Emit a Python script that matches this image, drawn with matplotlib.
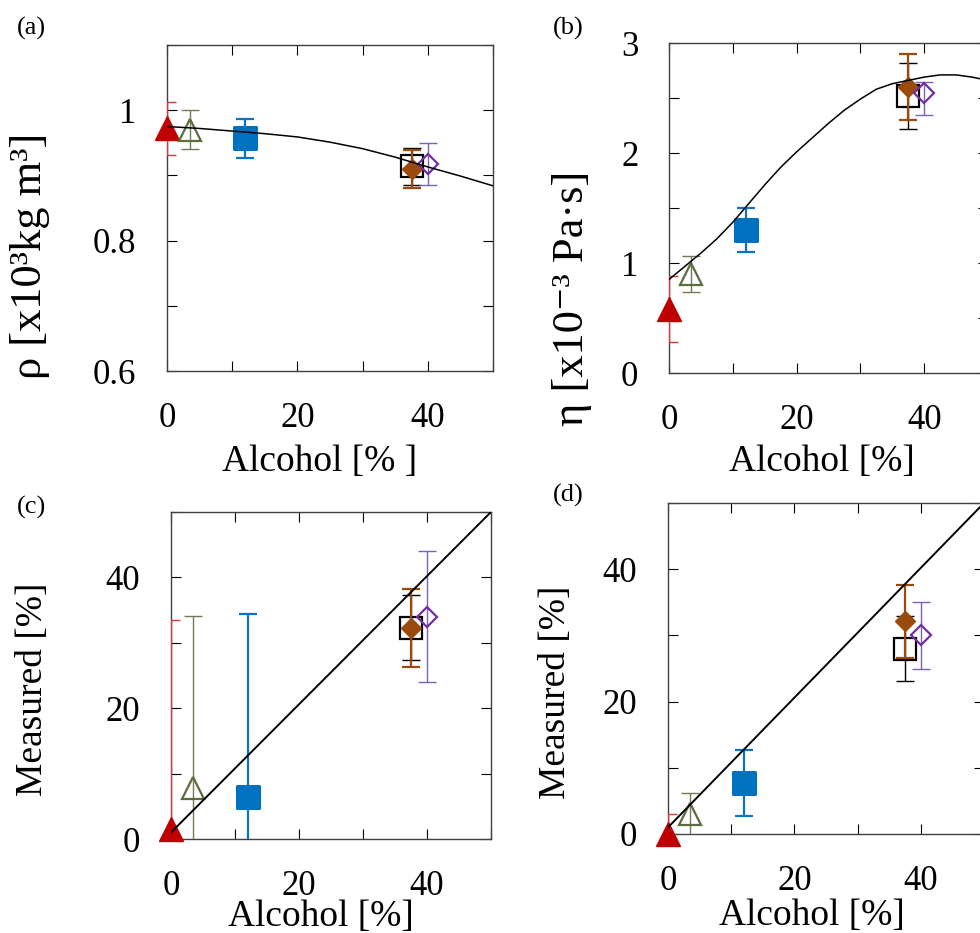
import matplotlib.pyplot as plt
from matplotlib.markers import MarkerStyle

plt.rcParams["font.family"] = ["Liberation Serif", "DejaVu Serif"]
plt.rcParams["mathtext.fontset"] = "custom"
plt.rcParams["mathtext.rm"] = "Liberation Serif"
plt.rcParams["mathtext.it"] = "Liberation Serif:italic"

W, H = 980, 933

# alcohol content of the six samples [%]
alcohol = [0, 3.5, 12, 37.5, 37.5, 40]

# (a) density [x10^3 kg m^-3]
density = [0.972, 0.970, 0.957, 0.914, 0.910, 0.918]
density_err = [0.040, 0.030, 0.030, 0.028, 0.029, 0.032]

# (b) viscosity [x10^-3 Pa s]
viscosity = [0.58, 0.90, 1.30, 2.52, 2.60, 2.55]
visc_err_lo = [0.30, 0.16, 0.20, 0.30, 0.30, 0.20]
visc_err_hi = [0.30, 0.16, 0.20, 0.30, 0.30, 0.10]

# (c), (d) measured alcohol content [%]
measured_c = [1.5, 7.8, 6.4, 32.3, 32.3, 34.0]
measured_c_err = [32.0, 26.3, 28.0, 5.0, 6.0, 10.0]
measured_d = [0.0, 3.0, 7.7, 28.0, 32.1, 30.0]
measured_d_err = [3.0, 3.2, 5.0, 4.9, 5.5, 5.0]

# reference curves (water-ethanol mixtures)
curve_x_a = [0, 5, 10, 15, 20, 25, 30, 35, 40, 45, 50]
curve_rho = [0.975, 0.972, 0.968, 0.964, 0.959, 0.951, 0.941, 0.928, 0.913, 0.899, 0.884]
curve_x_b = [0, 2.5, 5, 7.5, 10, 12.5, 15, 17.5, 20, 22.5, 25, 27.5, 30,
             32.5, 35, 37.5, 40, 42.5, 45, 47.5, 50]
curve_eta = [0.85, 0.97, 1.09, 1.22, 1.37, 1.54, 1.71, 1.87, 2.01, 2.14, 2.27,
             2.39, 2.49, 2.58, 2.63, 2.66, 2.69, 2.71, 2.71, 2.69, 2.66]
ideal_x = [0, 50]
ideal_y = [1, 50]

styles = [
    dict(marker="^", color="#c00000", mfc="#c00000", ms=17, mew=1.0, ecolor="#d83a3a", elw=1.0),
    dict(marker="^", color="#5b6d3f", mfc="none", ms=16, mew=1.6, ecolor="#747a58", elw=1.0),
    dict(marker=MarkerStyle("s", joinstyle="round"), color="#0070c0", mfc="#0070c0", ms=16,
         mew=2.2, ecolor="#0a74c4", elw=1.6),
    dict(marker="s", color="black", mfc="none", ms=15.5, mew=1.6, ecolor="black", elw=1.0),
    dict(marker="D", color="#9a4a0c", mfc="#9a4a0c", ms=10.5, mew=1.0, ecolor="#9a4a0c", elw=1.6),
    dict(marker="D", color="#7030a0", mfc="none", ms=10.5, mew=1.6, ecolor="#7a62b8", elw=1.0),
]


def px(x, y):
    return x / W, 1 - y / H


def add_panel(left, top, right, bottom):
    return fig.add_axes([left / W, 1 - bottom / H, (right - left) / W, (bottom - top) / H])


def points(ax, yv, err_lo, err_hi):
    for i, st in enumerate(styles):
        ax.errorbar([alcohol[i]], [yv[i]], yerr=[[err_lo[i]], [err_hi[i]]], fmt="none",
                    ecolor=st["ecolor"], elinewidth=st["elw"], capsize=6.2,
                    capthick=st["elw"], zorder=3 + i)
        ax.plot(alcohol[i], yv[i], linestyle="none", marker=st["marker"], color=st["color"],
                mfc=st["mfc"], mec=st["color"], ms=st["ms"], mew=st["mew"],
                clip_on=False, zorder=3.5 + i)


def style_axes(ax, yticks, ylabels, yminor, ylim):
    ax.set_xlim(0, 50)
    ax.set_ylim(*ylim)
    ax.set_xticks([0, 20, 40])
    ax.set_xticks([10, 30, 50], minor=True)
    ax.set_yticks(yticks)
    ax.set_yticklabels(ylabels)
    ax.set_yticks(yminor, minor=True)
    ax.tick_params(which="both", direction="in", top=True, right=True, length=7,
                   width=0.8, labelsize=25)
    ax.tick_params(axis="x", pad=22)
    ax.tick_params(axis="y", pad=22)
    for s in ax.spines.values():
        s.set_color("#404040")
        s.set_linewidth(1.0)


fig = plt.figure(figsize=(W / 100, H / 100), dpi=100)

# (a) density
ax = add_panel(167, 45, 493, 371)
points(ax, density, density_err, density_err)
ax.plot(curve_x_a, curve_rho, color="black", lw=1.1, zorder=20)
style_axes(ax, [0.6, 0.8, 1.0], ["0.6", "0.8", "1"], [0.7, 0.9, 1.1], (0.6, 1.1))

# (b) viscosity
ax = add_panel(669, 43, 988, 373)
points(ax, viscosity, visc_err_lo, visc_err_hi)
ax.plot(curve_x_b, curve_eta, color="black", lw=1.1, zorder=20)
style_axes(ax, [0, 1, 2, 3], ["0", "1", "2", "3"], [0.5, 1.5, 2.5], (0, 3))

# (c) measured vs. actual
ax = add_panel(171, 512, 491, 839)
points(ax, measured_c, measured_c_err, measured_c_err)
ax.plot(ideal_x, ideal_y, color="black", lw=1.4, zorder=20)
style_axes(ax, [0, 20, 40], ["0", "20", "40"], [10, 30, 50], (0, 50))

# (d) measured vs. actual
ax = add_panel(668, 503, 984, 834)
points(ax, measured_d, measured_d_err, measured_d_err)
ax.plot(ideal_x, ideal_y, color="black", lw=1.4, zorder=20)
style_axes(ax, [0, 20, 40], ["0", "20", "40"], [10, 30, 50], (0, 50))

# panel letters
for tag, (x, y) in zip(["(a)", "(b)", "(c)", "(d)"],
                       [(17, 28), (553, 28), (17, 507), (553, 495)]):
    fig.text(*px(x, y), tag, fontsize=19, ha="left", va="center")

# axis titles
xlabels = [("Alcohol [% ]", 320, 462), ("Alcohol [%]", 822, 462),
           ("Alcohol [%]", 321, 917), ("Alcohol [%]", 812, 916)]
for txt, x, y in xlabels:
    fig.text(*px(x, y), txt, fontsize=27, ha="center", va="center")

ylabels = [("ρ [x10³kg m³]", 30, 256, 32),
           ("η [x10⁻³ Pa·s]", 572, 298, 32),
           ("Measured [%]", 33, 689, 27),
           ("Measured [%]", 556, 692, 27)]
for txt, x, y, fs in ylabels:
    fig.text(*px(x, y), txt, fontsize=fs, rotation=90, ha="center", va="center")

fig.savefig("out.png", dpi=100)
